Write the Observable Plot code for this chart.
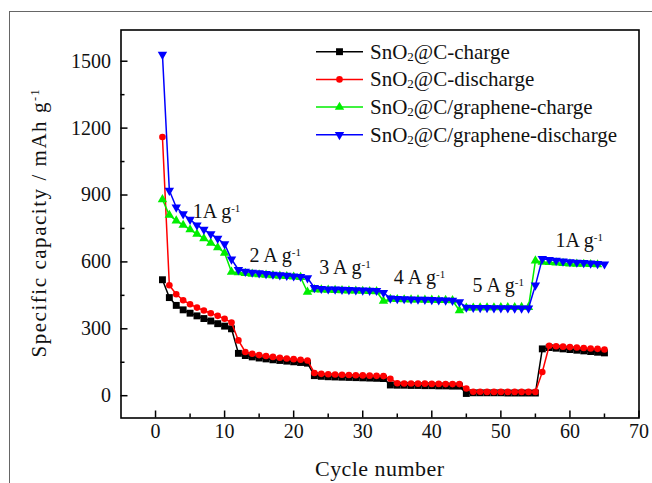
<!DOCTYPE html>
<html><head><meta charset="utf-8">
<script src="https://cdn.jsdelivr.net/npm/d3@7"></script>
<script src="https://cdn.jsdelivr.net/npm/@observablehq/plot@0.6"></script>
<style>
html,body{margin:0;padding:0;background:#fff;}
#wrap{position:relative;width:652px;height:483px;overflow:hidden;background:#fff;}
#border{position:absolute;left:9px;top:11px;width:700px;height:600px;border:1px solid #666;}
#chart{position:absolute;left:0;top:0;}
#chart svg text{font-family:'Liberation Serif','Times New Roman',serif;}
</style></head><body>
<div id="wrap"><div id="border"></div><div id="chart"></div></div>
<script>
const FONT = "'Liberation Serif', 'Times New Roman', serif";

// cycle numbers (1..65)
const cycles = d3.range(1, 66);

// SnO2@C-charge (black squares)
const chargeC = [520, 440, 405, 385, 370, 358, 346, 335, 323, 312, 300,
  190, 180, 174, 169, 165, 161, 158, 155, 152, 149, 146,
  90, 87, 85, 84, 83, 82, 81, 80, 79, 78, 77,
  48, 47, 47, 46, 46, 45, 45, 44, 44, 43, 43,
  10, 13, 13, 13, 13, 13, 12, 12, 12, 12, 12,
  210, 216, 213, 210, 207, 204, 201, 198, 195, 192];

// SnO2@C-discharge (red circles)
const dischargeC = [1160, 495, 455, 428, 410, 395, 382, 370, 358, 345, 328,
  248, 196, 188, 182, 178, 174, 170, 167, 164, 161, 158,
  102, 98, 96, 95, 94, 93, 92, 91, 90, 89, 88,
  76, 56, 55, 55, 54, 54, 53, 53, 52, 52, 52,
  32, 18, 18, 17, 17, 17, 17, 17, 17, 17, 17,
  106, 224, 222, 220, 218, 216, 214, 212, 210, 207];

// SnO2@C/graphene-charge (green up triangles)
const chargeG = [880, 810, 785, 765, 745, 725, 705, 685, 665, 640,
  555, 552, 549, 546, 543, 541, 539, 537, 535, 533, 531,
  465, 476, 475, 474, 473, 472, 471, 470, 469, 468, 467,
  425, 433, 432, 431, 430, 430, 429, 429, 428, 428, 427,
  382, 394, 394, 395, 395, 395, 396, 396, 396, 397, 397,
  605, 600, 598, 596, 594, 592, 591, 590, 589, 588];

// SnO2@C/graphene-discharge (blue down triangles)
const dischargeG = [1530, 920, 845, 815, 790, 765, 745, 725, 705, 680, 612,
  565, 557, 553, 550, 547, 544, 541, 539, 536, 534, 528,
  484, 480, 478, 477, 476, 475, 474, 473, 472, 471, 462,
  437, 435, 434, 433, 432, 431, 430, 429, 428, 427, 420,
  396, 395, 394, 394, 393, 393, 393, 392, 392, 392, 495,
  614, 610, 606, 603, 600, 598, 596, 594, 592, 590];

const seriesNames = ["SnO2@C-charge", "SnO2@C-discharge", "SnO2@C/graphene-charge", "SnO2@C/graphene-discharge"];
const seriesColors = ["#000000", "#ff0000", "#00ee00", "#0000ff"];

const xMajor = [0, 10, 20, 30, 40, 50, 60, 70];
const xMinor = [5, 15, 25, 35, 45, 55, 65];
const yMajor = [0, 300, 600, 900, 1200, 1500];
const yMinor = [150, 450, 750, 1050, 1350];

// current-density annotations (text, cycle, capacity)
const rateText = ["1A g", "2 A g", "3 A g", "4 A g", "5 A g", "1A g"];
const rateX = [5.4, 13.6, 23.7, 34.5, 45.9, 57.9];
const rateY = [798, 600, 545, 500, 465, 666];

const xLabel = "Cycle number";
const yLabel = "Specific capacity / mAh g";

const W = 652, H = 483;
const mL = 120.5, mR = 13.5, mT = 29.5, mB = 65.5;
const plotW = W - mL - mR, plotH = H - mT - mB;

const allValues = [chargeC, dischargeC, chargeG, dischargeG];
const rows = allValues.map(vals => cycles.map((c, i) => ({cycle: c, v: vals[i]})));
const rates = rateText.map((t, i) => ({t, x: rateX[i], y: rateY[i]}));

const symbols = ["square", "circle", "triangle", "triangle"];
const radii = [3.9, 3.3, 3.5, 3.5];
const rotations = [0, 0, 0, 180];

const seriesMarks = [];
rows.forEach((data, k) => {
  seriesMarks.push(Plot.line(data, {x: "cycle", y: "v", stroke: seriesColors[k], strokeWidth: 1.5}));
  seriesMarks.push(Plot.dot(data, {x: "cycle", y: "v", symbol: symbols[k], r: radii[k], fill: seriesColors[k], stroke: "none", rotate: rotations[k]}));
});

const chart = Plot.plot({
  width: W, height: H,
  marginLeft: mL, marginRight: mR, marginTop: mT, marginBottom: mB,
  x: {domain: [-5, 70]},
  y: {domain: [-100, 1640]},
  style: {fontFamily: FONT, background: "transparent", color: "#111"},
  marks: [
    Plot.tickX(xMajor, {x: d => d, insetTop: plotH - 7, stroke: "#000", strokeWidth: 1.5}),
    Plot.tickX(xMinor, {x: d => d, insetTop: plotH - 4, stroke: "#000", strokeWidth: 1.5}),
    Plot.tickY(yMajor, {y: d => d, insetRight: plotW - 7, stroke: "#000", strokeWidth: 1.5}),
    Plot.tickY(yMinor, {y: d => d, insetRight: plotW - 4, stroke: "#000", strokeWidth: 1.5}),
    Plot.axisX({ticks: xMajor, tickSize: 0, tickPadding: 6, fontSize: 20, tickFormat: d => String(d), label: null, fontFamily: FONT}),
    Plot.axisY({ticks: yMajor, tickSize: 0, tickPadding: 10, fontSize: 20, tickFormat: d => String(d), label: null, fontFamily: FONT}),
    ...seriesMarks,
    Plot.text(rates, {x: "x", y: "y", text: "t", textAnchor: "start", lineAnchor: "bottom", fontSize: 20, fill: "#111", className: "rate"}),
    Plot.frame({stroke: "#000", strokeWidth: 1.6})
  ]
});
document.getElementById("chart").appendChild(chart);

const svg = d3.select(chart);
// superscripts on annotations
svg.selectAll(".rate text").each(function() {
  d3.select(this).append("tspan").attr("dy", "-0.55em").attr("font-size", 11).text("-1");
});

// axis titles
const yt = svg.append("text")
  .attr("transform", `translate(39,${mT + plotH / 2}) rotate(-90)`)
  .attr("text-anchor", "middle").attr("font-family", FONT).attr("font-size", 21)
  .attr("fill", "#111").attr("dy", "0.35em")
  .attr("textLength", 268).attr("lengthAdjust", "spacing");
yt.append("tspan").text(yLabel);
yt.append("tspan").attr("dy", "-0.6em").attr("font-size", 12).text("-1");

svg.append("text")
  .attr("x", mL + plotW / 2).attr("y", 476)
  .attr("text-anchor", "middle").attr("font-family", FONT).attr("font-size", 22)
  .attr("fill", "#111").attr("textLength", 129).attr("lengthAdjust", "spacing").text(xLabel);

// legend
const leg = svg.append("g").attr("font-family", FONT).attr("font-size", 21).attr("fill", "#111").attr("text-anchor", "start");
const symFns = [d3.symbolSquare, d3.symbolCircle, d3.symbolTriangle, d3.symbolTriangle];
seriesNames.forEach((name, i) => {
  const cy = 51.7 + i * 27.7;
  leg.append("line").attr("x1", 316).attr("x2", 363).attr("y1", cy).attr("y2", cy)
    .attr("stroke", seriesColors[i]).attr("stroke-width", 1.5);
  leg.append("path").attr("d", d3.symbol(symFns[i], Math.PI * radii[i] * radii[i])())
    .attr("transform", `translate(339.5,${cy}) rotate(${rotations[i]})`).attr("fill", seriesColors[i]);
  const parts = name.split("SnO2");
  const t = leg.append("text").attr("x", 370).attr("y", cy + 7).attr("text-anchor", "start");
  t.append("tspan").text("SnO");
  t.append("tspan").attr("font-size", 13).attr("dy", 2).text("2");
  t.append("tspan").attr("dy", -2).text(parts[1]);
});
</script>
</body></html>
